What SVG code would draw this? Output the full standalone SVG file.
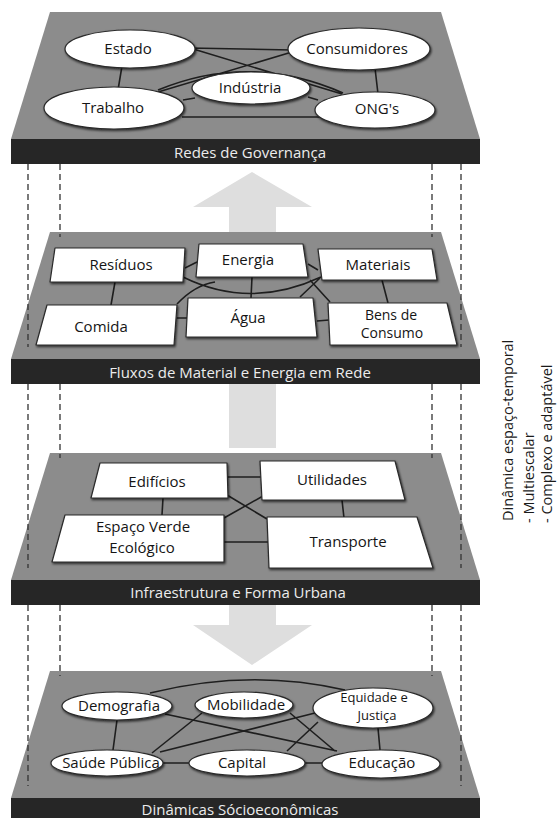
<svg xmlns="http://www.w3.org/2000/svg" width="557" height="818" viewBox="0 0 557 818">
<defs>
<style>
.plate{fill:#8c8c8c}
.band{fill:#262626}
.bt{font-family:"Open Sans","Noto Sans",sans-serif;font-size:15px;fill:#ececec;text-anchor:middle}
.nt{font-family:"Open Sans","Noto Sans",sans-serif;font-size:15px;fill:#151515;text-anchor:middle}
.nt2{font-family:"Open Sans","Noto Sans",sans-serif;font-size:14px;fill:#151515;text-anchor:middle}
.nt3{font-family:"Open Sans","Noto Sans",sans-serif;font-size:13px;fill:#151515;text-anchor:middle}
.node{fill:#fff;stroke:#2a2a2a;stroke-width:1.2;stroke-linejoin:round;filter:url(#sh)}
.dash{stroke:#333;stroke-width:1.3;stroke-dasharray:6 4;fill:none}
.arr{fill:#dedede}
.c{stroke:#1e1e1e;stroke-width:1.6;fill:none}
.side{font-family:"Open Sans","Noto Sans",sans-serif;font-size:14.5px;fill:#1a1a1a}
</style>
<filter id="sh" x="-20%" y="-30%" width="140%" height="170%">
<feDropShadow dx="1" dy="1.5" stdDeviation="1.3" flood-color="#000" flood-opacity="0.7"/>
</filter>
</defs>
<rect width="557" height="818" fill="#fff"/>

<!-- plates -->
<g id="layer1">
<polygon class="plate" points="50,12 441,12 480,139 11,139"/>
<rect class="band" x="11" y="139" width="469" height="25"/>
<text class="bt" x="250" y="158">Redes de Governança</text>
</g>
<g id="layer2">
<polygon class="plate" points="50,232 441,232 480,359 11,359"/>
<rect class="band" x="11" y="359" width="469" height="25"/>
<text class="bt" x="240" y="378">Fluxos de Material e Energia em Rede</text>
</g>
<g id="layer3">
<polygon class="plate" points="50,453 441,453 480,580 11,580"/>
<rect class="band" x="11" y="580" width="469" height="25"/>
<text class="bt" x="238" y="598">Infraestrutura e Forma Urbana</text>
</g>
<g id="layer4">
<polygon class="plate" points="50,671 441,671 480,798 11,798"/>
<rect class="band" x="11" y="798" width="469" height="25"/>
<text class="bt" x="240" y="815">Dinâmicas Sócioeconômicas</text>
</g>

<!-- big arrows -->
<g id="arrows">
<polygon class="arr" points="252,172 312,207 276,207 276,232 229,232 229,207 193,207"/>
<rect class="arr" x="229" y="384" width="47" height="64"/>
<polygon class="arr" points="229,605 276,605 276,625 312,625 252,665 193,625 229,625"/>
</g>

<!-- dashed guides -->
<g id="guides">
<path class="dash" d="M28,164V347M60,164V237M432,164V237M461,164V347"/>
<path class="dash" d="M28,384V568M60,384V458M432,384V458M461,384V568"/>
<path class="dash" d="M28,605V786M60,605V676M432,605V676M461,605V786"/>
</g>

<!-- connectors -->
<g id="connectors">
<path class="c" d="M122,66L118,90M375,68L378,94M190,48L292,50M190,48L342,94M292,52L158,92M158,90Q250,52 343,93M183,100L195,98M308,97L318,100M182,117L320,117"/>
<path class="c" d="M115,282L111,305M382,280L388,303M252,277L251,298M183,277Q250,310 321,277M185,268L197,262M308,264L318,270M177,318L187,318M317,321L329,320M177,304Q195,285 215,282M300,297L320,278M330,302L310,280"/>
<path class="c" d="M228,477H261M224,542H268M163,498L162,515M342,500L344,518M227,495L267,519M263,496L224,518"/>
<path class="c" d="M150,693Q250,668 345,690M117,720L113,750M378,728L380,750M163,763H189M305,763H323M165,714L337,751M202,713L152,753M290,713L335,751M315,713L160,752M318,722L287,751"/>
</g>

<!-- layer 1 nodes -->
<g id="estado"><ellipse class="node" cx="130" cy="49" rx="65" ry="19"/><text class="nt" x="128" y="54">Estado</text></g>
<g id="consumidores"><ellipse class="node" cx="359" cy="49" rx="71" ry="21"/><text class="nt" x="357" y="54">Consumidores</text></g>
<g id="industria"><ellipse class="node" cx="251" cy="88" rx="59" ry="16"/><text class="nt" x="250" y="93">Indústria</text></g>
<g id="trabalho"><ellipse class="node" cx="114" cy="108" rx="70" ry="21"/><text class="nt" x="113" y="113">Trabalho</text></g>
<g id="ongs"><ellipse class="node" cx="375" cy="110" rx="60" ry="18"/><text class="nt" x="377" y="114">ONG's</text></g>

<!-- layer 2 nodes -->
<g id="residuos"><polygon class="node" points="55,248 185,248 183,282 50,282"/><text class="nt" x="121" y="270">Resíduos</text></g>
<g id="energia"><polygon class="node" points="199,244 303,244 308,277 196,277"/><text class="nt" x="248" y="265">Energia</text></g>
<g id="materiais"><polygon class="node" points="318,249 432,249 437,280 322,280"/><text class="nt" x="378" y="270">Materiais</text></g>
<g id="comida"><polygon class="node" points="47,305 177,305 174,345 36,345"/><text class="nt" x="101" y="332">Comida</text></g>
<g id="agua"><polygon class="node" points="188,298 313,298 317,337 186,337"/><text class="nt" x="248" y="323">Água</text></g>
<g id="bens"><polygon class="node" points="328,303 447,303 457,345 330,345"/><text class="nt2" x="391" y="320">Bens de</text><text class="nt2" x="392" y="338">Consumo</text></g>

<!-- layer 3 nodes -->
<g id="edificios"><polygon class="node" points="100,463 227,463 228,498 91,498"/><text class="nt" x="157" y="487">Edifícios</text></g>
<g id="utilidades"><polygon class="node" points="260,461 395,461 405,500 262,500"/><text class="nt" x="332" y="485">Utilidades</text></g>
<g id="espaco"><polygon class="node" points="65,515 224,515 224,562 52,562"/><text class="nt" x="143" y="532">Espaço Verde</text><text class="nt" x="142" y="553">Ecológico</text></g>
<g id="transporte"><polygon class="node" points="267,517 417,517 433,568 269,568"/><text class="nt" x="348" y="547">Transporte</text></g>

<!-- layer 4 nodes -->
<g id="demografia"><ellipse class="node" cx="117" cy="706" rx="55" ry="14"/><text class="nt" x="119" y="711">Demografia</text></g>
<g id="mobilidade"><ellipse class="node" cx="244" cy="705" rx="49" ry="13"/><text class="nt" x="246" y="710">Mobilidade</text></g>
<g id="equidade"><ellipse class="node" cx="373" cy="708" rx="60" ry="20"/><text class="nt3" x="374" y="702">Equidade e</text><text class="nt3" x="377" y="720">Justiça</text></g>
<g id="saude"><ellipse class="node" cx="107" cy="763" rx="56" ry="13"/><text class="nt" x="111" y="768">Saúde Pública</text></g>
<g id="capital"><ellipse class="node" cx="247" cy="763" rx="58" ry="13"/><text class="nt" x="242" y="768">Capital</text></g>
<g id="educacao"><ellipse class="node" cx="381" cy="764" rx="59" ry="14"/><text class="nt" x="382" y="768">Educação</text></g>

<!-- side text -->
<g id="side-note">
<text class="side" transform="rotate(-90 513 521)" x="513" y="521">Dinâmica espaço-temporal</text>
<text class="side" transform="rotate(-90 534 523)" x="534" y="523">- Multiescalar</text>
<text class="side" transform="rotate(-90 552 523)" x="552" y="523">- Complexo e adaptável</text>
</g>
</svg>
